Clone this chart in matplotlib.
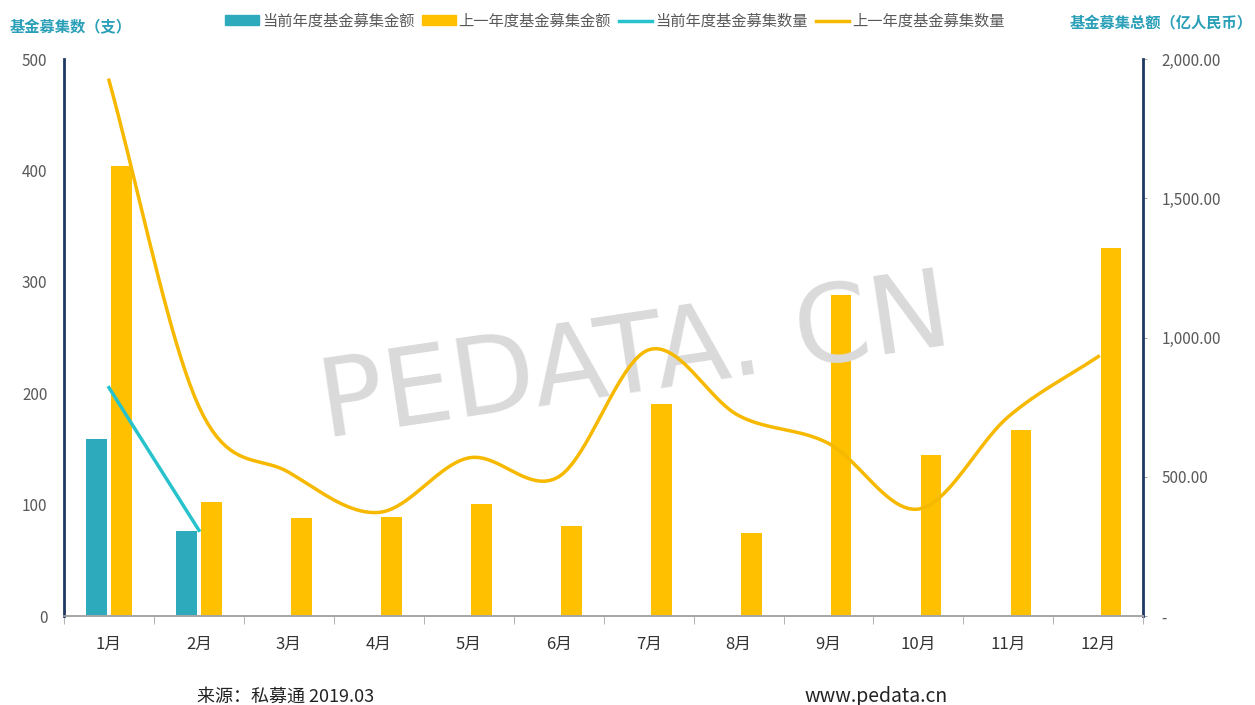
import numpy as np
import matplotlib.pyplot as plt
from matplotlib.patches import Patch
from matplotlib.lines import Line2D
from matplotlib.ticker import FuncFormatter

plt.rcParams['font.family'] = ['Noto Sans CJK SC', 'DejaVu Sans']

months = ['1月', '2月', '3月', '4月', '5月', '6月', '7月', '8月', '9月', '10月', '11月', '12月']

# amounts (亿人民币, right axis)
cur_amount = [636, 305]
prev_amount = [1616, 409, 352, 355, 402, 323, 761, 298, 1153, 578, 668, 1321]

# counts (支, left axis)
cur_count = [205, 77]
prev_count = [481, 188, 129, 93, 142, 125, 239, 180, 155, 96, 179, 233]

TEAL_BAR = '#2eaabd'
YELLOW = '#ffc000'
TEAL_LINE = '#27c2cc'
YELLOW_LINE = '#f7b900'
NAVY = '#1f3864'
TEXT = '#595959'
TITLE = '#2aa0b8'


def smooth(x, y, n=20):
    # catmull-rom through the points, just for drawing a smoothed line
    x = np.asarray(x, float)
    y = np.asarray(y, float)
    px = np.concatenate([[2 * x[0] - x[1]], x, [2 * x[-1] - x[-2]]])
    py = np.concatenate([[2 * y[0] - y[1]], y, [2 * y[-1] - y[-2]]])
    xs, ys = [], []
    t = np.linspace(0, 1, n, endpoint=False)
    for i in range(1, len(px) - 2):
        for p, out in ((px, xs), (py, ys)):
            p0, p1, p2, p3 = p[i - 1], p[i], p[i + 1], p[i + 2]
            out.extend(0.5 * (2 * p1 + (-p0 + p2) * t
                              + (2 * p0 - 5 * p1 + 4 * p2 - p3) * t ** 2
                              + (-p0 + 3 * p1 - 3 * p2 + p3) * t ** 3))
    xs.append(x[-1])
    ys.append(y[-1])
    return np.array(xs), np.array(ys)


fig = plt.figure(figsize=(12.55, 7.05), dpi=100)
ax = fig.add_axes([0.051, 0.1262, 0.86, 0.79])
ax2 = ax.twinx()

x = np.arange(len(months))
w = 0.23
ax2.bar(x[:len(cur_amount)] - 0.14, cur_amount, w, color=TEAL_BAR, zorder=2)
ax2.bar(x + 0.14, prev_amount, w, color=YELLOW, zorder=2)

ax.set_zorder(ax2.get_zorder() + 1)
ax.patch.set_visible(False)
sx, sy = smooth(x, prev_count)
ax.plot(sx, sy, color=YELLOW_LINE, lw=2.5, zorder=3)
ax.plot(x[:len(cur_count)], cur_count, color=TEAL_LINE, lw=2.5, zorder=3)

ax.set_xlim(-0.5, 11.5)
ax.set_ylim(0, 500)
ax2.set_ylim(0, 2000)
ax.set_yticks(range(0, 501, 100))
ax2.set_yticks(range(0, 2001, 500))
ax2.yaxis.set_major_formatter(FuncFormatter(lambda v, p: '-' if v == 0 else f'{v:,.2f}'))

ax.set_xticks(x)
ax.set_xticklabels(months)
ax.set_xticks(np.arange(-0.5, 12, 1), minor=True)
ax.tick_params(axis='x', which='major', length=0, pad=14, labelsize=12, labelcolor='#333333')
ax.tick_params(axis='x', which='minor', length=6, color='#a6a6a6', direction='out')
ax.tick_params(axis='y', length=0, pad=12, labelsize=11, labelcolor=TEXT)
ax2.tick_params(axis='y', length=3, color='#a6a6a6', pad=10, labelsize=11, labelcolor=TEXT)

for a in (ax, ax2):
    a.spines['top'].set_visible(False)
    a.spines['left'].set_color(NAVY)
    a.spines['left'].set_linewidth(2)
    a.spines['right'].set_color(NAVY)
    a.spines['right'].set_linewidth(2)
    a.spines['bottom'].set_color('#a6a6a6')
    a.spines['bottom'].set_linewidth(1.2)
ax2.spines['left'].set_visible(False)
ax.spines['right'].set_visible(False)

# watermark
fig.text(0.506, 0.488, 'PEDATA. CN', fontsize=78, color='#dadada', rotation=8.5,
         ha='center', va='center', family='DejaVu Sans', zorder=0)

handles = [Patch(color=TEAL_BAR), Patch(color=YELLOW),
           Line2D([], [], color=TEAL_LINE, lw=2.5), Line2D([], [], color=YELLOW_LINE, lw=2.5)]
labels = ['当前年度基金募集金额', '上一年度基金募集金额', '当前年度基金募集数量', '上一年度基金募集数量']
fig.legend(handles, labels, loc='center', bbox_to_anchor=(0.49, 0.97), ncol=4, frameon=False,
           fontsize=11, handlelength=2.2, handleheight=0.6, handletextpad=0.2, columnspacing=0.5,
           labelcolor=TEXT)

fig.text(0.008, 0.962, '基金募集数（支）', color=TITLE, fontsize=11, weight='bold', va='center')
fig.text(0.852, 0.968, '基金募集总额（亿人民币）', color=TITLE, fontsize=11, weight='bold', va='center')

fig.text(0.157, 0.012, '来源：私募通 2019.03', fontsize=13, color='#222222', va='center')
fig.text(0.641, 0.012, 'www.pedata.cn', fontsize=14, color='#222222', va='center')

fig.savefig('out.png', dpi=100)
